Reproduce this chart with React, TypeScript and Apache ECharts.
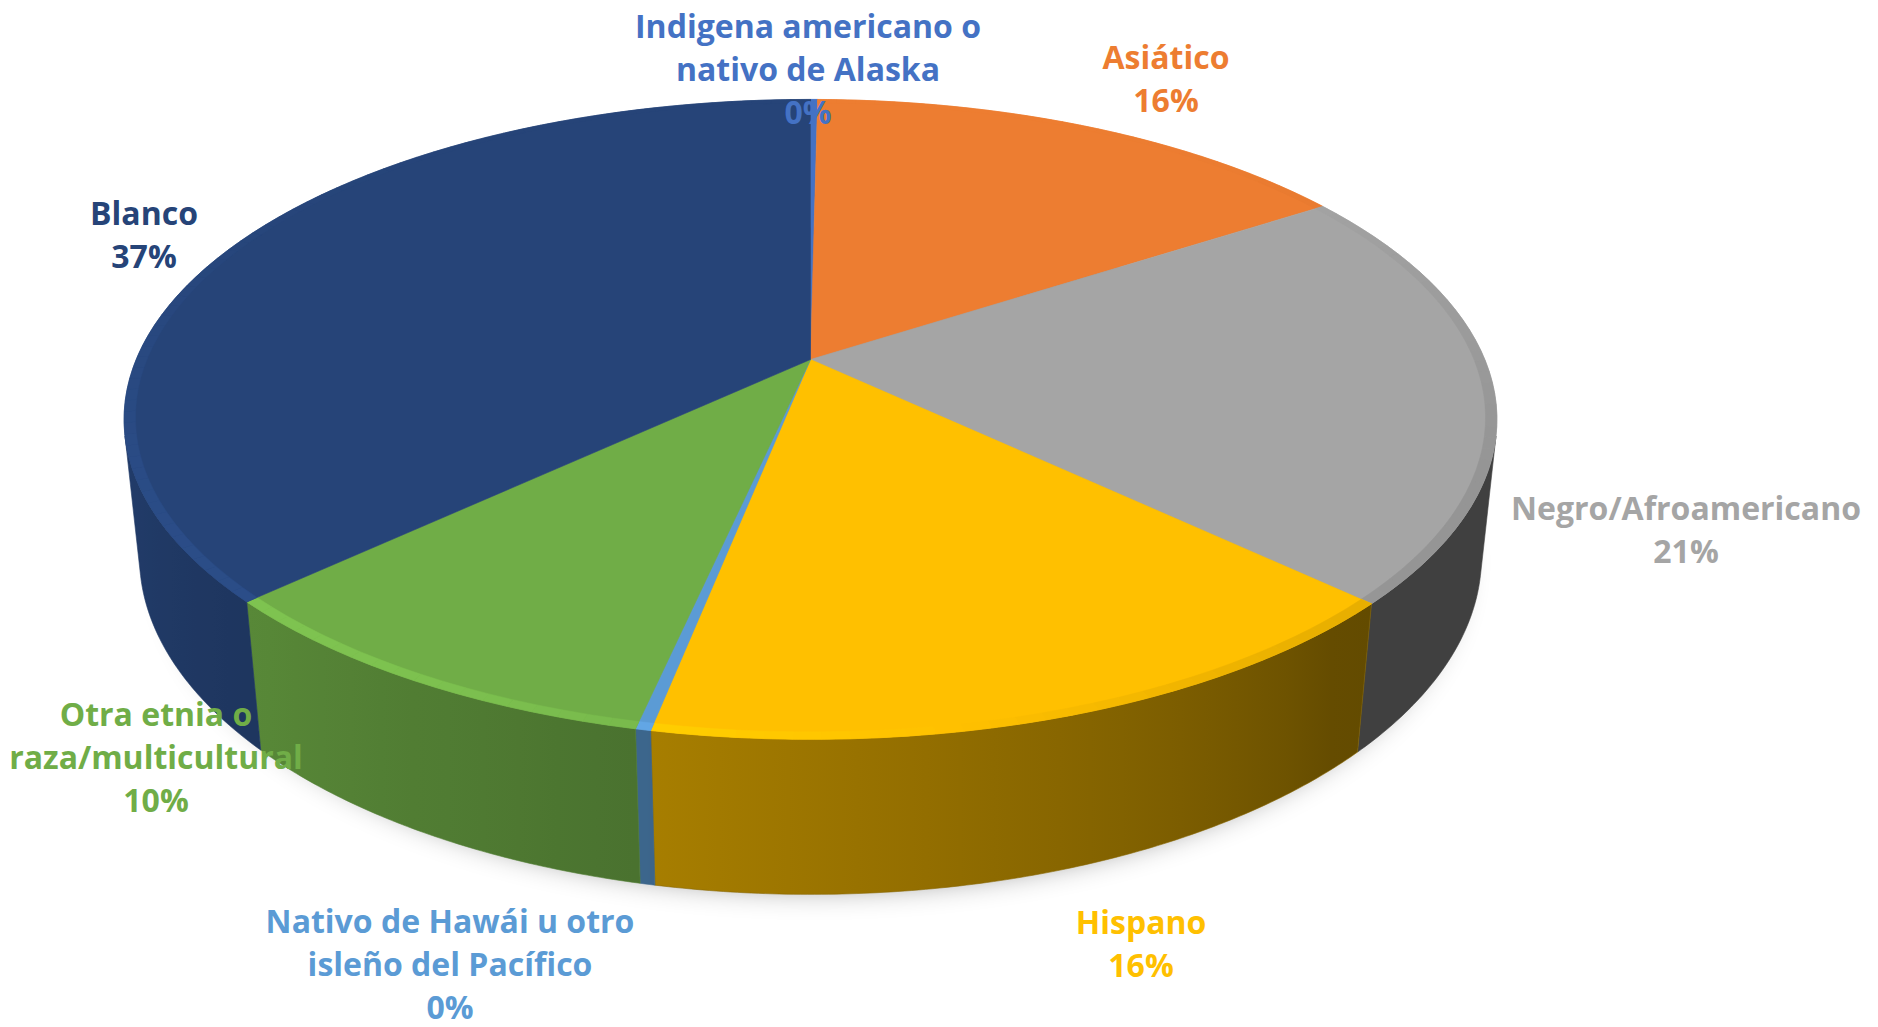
import React, { useEffect, useRef } from "react";
import * as echarts from "echarts";

// ---------- data ----------
const CATEGORIES = [
  "Indigena americano o nativo de Alaska",
  "Asiático",
  "Negro/Afroamericano",
  "Hispano",
  "Nativo de Hawái u otro isleño del Pacífico",
  "Otra etnia o raza/multicultural",
  "Blanco",
];
const LABEL_TEXT = [
  "Indigena americano o\nnativo de Alaska",
  "Asiático",
  "Negro/Afroamericano",
  "Hispano",
  "Nativo de Hawái u otro\nisleño del Pacífico",
  "Otra etnia o\nraza/multicultural",
  "Blanco",
];
const VALUES = [0.2, 15.6, 21.3, 16.0, 0.3, 9.6, 37.0];
const COLORS = ["#4472C4", "#ED7D31", "#A5A5A5", "#FFC000", "#5B9BD5", "#70AD47", "#264478"];

// ---------- layout ----------
const LABEL_CENTERS = [
  [808, 68],
  [1166, 78],
  [1686, 529],
  [1141, 943],
  [450, 963],
  [156, 756],
  [144, 234],
];
const GEO = { cx: 810.5, cy: 359.5, scale: 674.3, dist: 4.75, elev: 27.25, thick: 0.23 };
const FONT = "'Open Sans', 'Noto Sans', sans-serif";

const RAD = Math.PI / 180;
const SIN_E = Math.sin(GEO.elev * RAD);
const COS_E = Math.cos(GEO.elev * RAD);
const VIS = Math.acos(-1 / (GEO.dist * COS_E)) / RAD;

function project(tDeg: number, r: number, yw: number): number[] {
  const t = tDeg * RAD;
  const X = r * Math.sin(t);
  const Z = -r * Math.cos(t);
  const depth = GEO.dist - yw * SIN_E - Z * COS_E;
  const f = GEO.scale * GEO.dist;
  return [GEO.cx + (f * X) / depth, GEO.cy - (f * (yw * COS_E - Z * SIN_E)) / depth];
}

function arc(a: number, b: number, r: number, yw: number): number[][] {
  const n = Math.max(1, Math.ceil(Math.abs(b - a) / 0.5));
  const pts: number[][] = [];
  for (let k = 0; k <= n; k++) pts.push(project(a + ((b - a) * k) / n, r, yw));
  return pts;
}

function hexRgb(h: string): number[] {
  const v = parseInt(h.slice(1), 16);
  return [(v >> 16) & 255, (v >> 8) & 255, v & 255];
}
function scaleColor(h: string, f: number): string {
  const c = hexRgb(h).map((x) => Math.max(0, Math.min(255, Math.round(x * f))));
  return `rgb(${c[0]},${c[1]},${c[2]})`;
}
function sideLight(t: number): number {
  if (t <= 138) return 0.39;
  const k = Math.min(1, (t - 138) / 118);
  return 0.39 + 0.5 * Math.pow(k, 0.8);
}
function bevelF(t: number): number {
  const w = Math.pow((1 - Math.cos(t * RAD)) / 2, 1.5);
  return 1 - 0.2 * Math.cos((t - 80) * RAD) * w;
}

const TOTAL = VALUES.reduce((s, v) => s + v, 0);
const STARTS: number[] = [];
{
  let acc = 0;
  for (const v of VALUES) {
    STARTS.push((acc / TOTAL) * 360);
    acc += v;
  }
}

function renderSlice(params: any, api: any) {
  const i = params.dataIndex;
  const v = api.value(0);
  const a = STARTS[i];
  const b = a + (v / TOTAL) * 360;
  const base = COLORS[i];
  const children: any[] = [];

  // side wall
  const lo = Math.max(a, VIS);
  const hi = Math.min(b, 360 - VIS);
  if (hi > lo) {
    const pts = arc(lo, hi, 1, 0).concat(arc(hi, lo, 1, -GEO.thick));
    const xs = pts.map((p) => p[0]);
    const minX = Math.min(...xs);
    const maxX = Math.max(...xs);
    const span = Math.max(1e-6, maxX - minX);
    const stops: any[] = [];
    const n = 12;
    for (let k = 0; k <= n; k++) {
      const t = lo + ((hi - lo) * k) / n;
      const x = project(t, 1, 0)[0];
      stops.push({ offset: Math.max(0, Math.min(1, (x - minX) / span)), color: scaleColor(base, sideLight(t)) });
    }
    stops.sort((p, q) => p.offset - q.offset);
    children.push({
      type: "polygon",
      shape: { points: pts },
      style: { fill: new echarts.graphic.LinearGradient(0, 0, 1, 0, stops), stroke: scaleColor(base, sideLight((lo + hi) / 2)), lineWidth: 0.6 },
    });
  }

  // top face
  const top = [[GEO.cx, GEO.cy]].concat(arc(a, b, 1, 0));
  children.push({
    type: "polygon",
    shape: { points: top },
    style: { fill: base, stroke: base, lineWidth: 0.6 },
  });

  // bevel band along the rim
  const rIn = 0.984;
  const nSeg = Math.max(1, Math.ceil((b - a) / 2));
  for (let k = 0; k < nSeg; k++) {
    const t0 = a + ((b - a) * k) / nSeg;
    const t1 = a + ((b - a) * (k + 1)) / nSeg;
    const c = scaleColor(base, bevelF((t0 + t1) / 2));
    children.push({
      type: "polygon",
      shape: { points: [project(t0, 1, 0), project(t1, 1, 0), project(t1, rIn, 0), project(t0, rIn, 0)] },
      style: { fill: c, stroke: c, lineWidth: 0.5 },
    });
  }
  return { type: "group", children };
}

function renderShadow() {
  return {
    type: "polygon",
    shape: { points: arc(0, 360, 0.96, -GEO.thick) },
    style: {
      fill: "#9a9a9a",
      shadowBlur: 30,
      shadowColor: "rgba(0,0,0,0.45)",
      shadowOffsetX: 4,
      shadowOffsetY: 12,
    },
  };
}

function renderLabel(params: any, api: any) {
  const i = params.dataIndex;
  const pct = Math.round((api.value(0) / TOTAL) * 100);
  const [x, y] = LABEL_CENTERS[i];
  return {
    type: "text",
    x,
    y,
    style: {
      text: LABEL_TEXT[i] + "\n" + pct + "%",
      fill: COLORS[i],
      fontFamily: FONT,
      fontWeight: "bold",
      fontSize: 32,
      lineHeight: 43,
      align: "center",
      verticalAlign: "middle",
      textAlign: "center",
      textVerticalAlign: "middle",
    },
  };
}

export default function App() {
  const ref = useRef<HTMLDivElement>(null);
  useEffect(() => {
    const chart = echarts.init(ref.current!, null, { renderer: "svg" });
    const data = VALUES.map((v, i) => ({ name: CATEGORIES[i], value: [v] }));
    chart.setOption({
      animation: false,
      backgroundColor: "#ffffff",
      series: [
        { type: "custom", coordinateSystem: "none", silent: true, z: 1, data: [[0]], renderItem: renderShadow },
        { type: "custom", coordinateSystem: "none", silent: true, z: 2, data, renderItem: renderSlice },
        { type: "custom", coordinateSystem: "none", silent: true, z: 3, data, renderItem: renderLabel },
      ],
    });
    return () => chart.dispose();
  }, []);
  return (
    <div
      ref={ref}
      style={{ position: "fixed", left: 0, top: 0, width: 1878, height: 1027, background: "#fff" }}
    />
  );
}
